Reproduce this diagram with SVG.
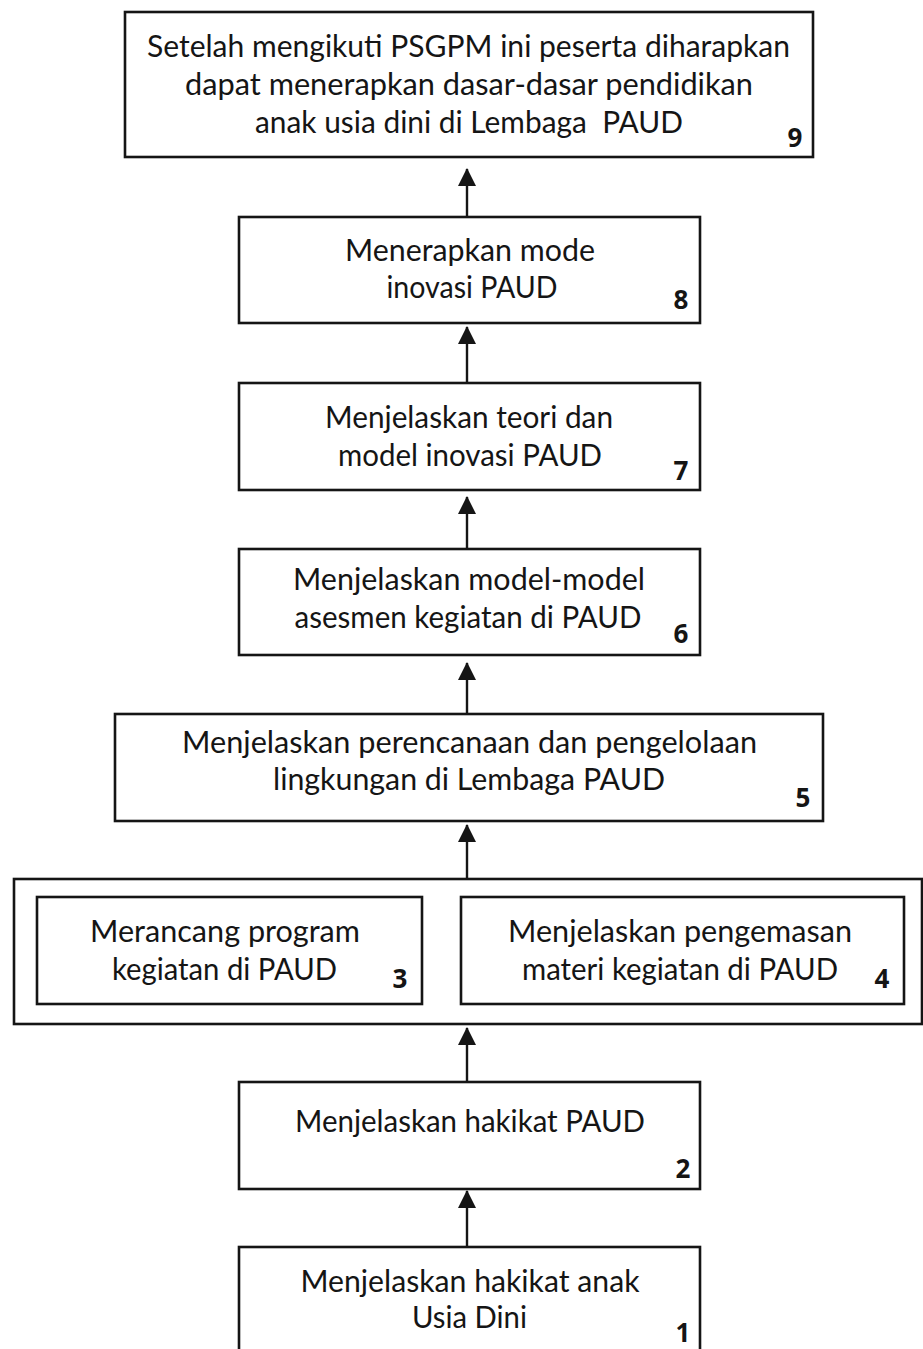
<svg xmlns="http://www.w3.org/2000/svg" width="923" height="1349" viewBox="0 0 923 1349">
<style>
.box{fill:#fff;stroke:#151515;stroke-width:2.6}
.t{font-family:Lato,"Open Sans","Liberation Sans",sans-serif;font-size:30px;fill:#151515;text-anchor:middle}
.n{font-family:"Open Sans","Liberation Sans",sans-serif;font-size:26px;font-weight:bold;fill:#151515;text-anchor:middle}
.c{fill:none;stroke:#151515;stroke-width:2.4}
</style>
<defs>
<marker id="ah" viewBox="0 0 18 18" refX="17" refY="9" markerWidth="18" markerHeight="18" markerUnits="userSpaceOnUse" orient="auto">
<path d="M0,0 L18,9 L0,18 z" fill="#151515"/>
</marker>
</defs>
<rect width="923" height="1349" fill="#fff"/>
<g id="connectors">
<path class="c" d="M467,217 L467,169" marker-end="url(#ah)"/>
<path class="c" d="M467,383 L467,327" marker-end="url(#ah)"/>
<path class="c" d="M467,549 L467,497" marker-end="url(#ah)"/>
<path class="c" d="M467,714 L467,663" marker-end="url(#ah)"/>
<path class="c" d="M467,879 L467,825" marker-end="url(#ah)"/>
<path class="c" d="M467,1082 L467,1028" marker-end="url(#ah)"/>
<path class="c" d="M467,1247 L467,1191" marker-end="url(#ah)"/>
</g>
<g id="node9">
<rect class="box" x="125" y="12" width="688" height="145"/>
<text class="t" x="468.5" y="57" textLength="643" lengthAdjust="spacingAndGlyphs">Setelah mengikuti PSGPM ini peserta diharapkan</text>
<text class="t" x="469" y="95" textLength="568" lengthAdjust="spacingAndGlyphs">dapat menerapkan dasar-dasar pendidikan</text>
<text class="t" x="469" y="133" textLength="428" lengthAdjust="spacingAndGlyphs" xml:space="preserve">anak usia dini di Lembaga  PAUD</text>
<text class="n" x="795" y="147">9</text>
</g>
<g id="node8">
<rect class="box" x="239" y="217" width="461" height="106"/>
<text class="t" x="470" y="261" textLength="250" lengthAdjust="spacingAndGlyphs">Menerapkan mode</text>
<text class="t" x="472" y="298" textLength="171" lengthAdjust="spacingAndGlyphs">inovasi PAUD</text>
<text class="n" x="681" y="309">8</text>
</g>
<g id="node7">
<rect class="box" x="239" y="383" width="461" height="107"/>
<text class="t" x="469" y="428" textLength="288" lengthAdjust="spacingAndGlyphs">Menjelaskan teori dan</text>
<text class="t" x="470" y="466" textLength="264" lengthAdjust="spacingAndGlyphs">model inovasi PAUD</text>
<text class="n" x="681" y="480">7</text>
</g>
<g id="node6">
<rect class="box" x="239" y="549" width="461" height="106"/>
<text class="t" x="469" y="590" textLength="352" lengthAdjust="spacingAndGlyphs">Menjelaskan model-model</text>
<text class="t" x="468" y="628" textLength="347" lengthAdjust="spacingAndGlyphs">asesmen kegiatan di PAUD</text>
<text class="n" x="681" y="643">6</text>
</g>
<g id="node5">
<rect class="box" x="115" y="714" width="708" height="107"/>
<text class="t" x="469.5" y="753" textLength="575" lengthAdjust="spacingAndGlyphs">Menjelaskan perencanaan dan pengelolaan</text>
<text class="t" x="469" y="790" textLength="392" lengthAdjust="spacingAndGlyphs">lingkungan di Lembaga PAUD</text>
<text class="n" x="803" y="807">5</text>
</g>
<g id="group34">
<rect class="box" x="14" y="879" width="908" height="145"/>
</g>
<g id="node3">
<rect class="box" x="37" y="897" width="385" height="107"/>
<text class="t" x="225" y="942" textLength="270" lengthAdjust="spacingAndGlyphs">Merancang program</text>
<text class="t" x="224.5" y="980" textLength="225" lengthAdjust="spacingAndGlyphs">kegiatan di PAUD</text>
<text class="n" x="400" y="988">3</text>
</g>
<g id="node4">
<rect class="box" x="461" y="897" width="443" height="107"/>
<text class="t" x="680" y="942" textLength="344" lengthAdjust="spacingAndGlyphs">Menjelaskan pengemasan</text>
<text class="t" x="680" y="980" textLength="316" lengthAdjust="spacingAndGlyphs">materi kegiatan di PAUD</text>
<text class="n" x="882" y="988">4</text>
</g>
<g id="node2">
<rect class="box" x="239" y="1082" width="461" height="107"/>
<text class="t" x="470" y="1132" textLength="350" lengthAdjust="spacingAndGlyphs">Menjelaskan hakikat PAUD</text>
<text class="n" x="683" y="1178">2</text>
</g>
<g id="node1">
<rect class="box" x="239" y="1247" width="461" height="125"/>
<text class="t" x="470" y="1292" textLength="339" lengthAdjust="spacingAndGlyphs">Menjelaskan hakikat anak</text>
<text class="t" x="469.5" y="1328" textLength="115" lengthAdjust="spacingAndGlyphs">Usia Dini</text>
<text class="n" x="683" y="1342">1</text>
</g>
</svg>
